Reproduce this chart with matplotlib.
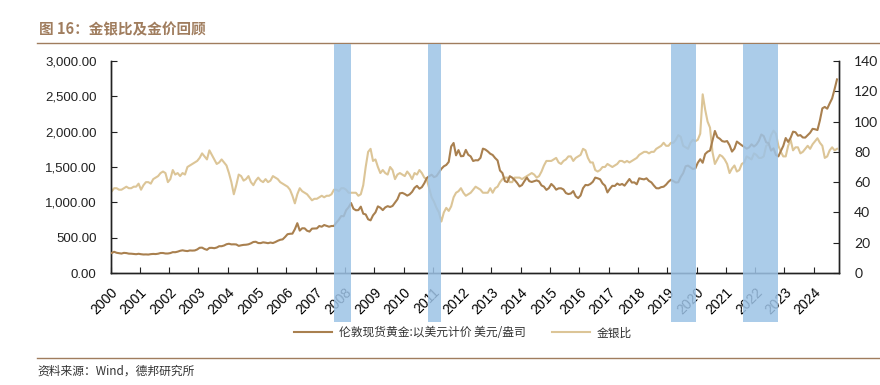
import numpy as np
import matplotlib
matplotlib.use("Agg")
import matplotlib.pyplot as plt
from matplotlib.patches import Rectangle
from matplotlib.transforms import blended_transform_factory
from matplotlib.ticker import FuncFormatter, MultipleLocator

# ---------------- data (monthly, Jan 2000 .. Oct 2024) ----------------
gold_price = [
    # 2000
    284, 300, 286, 280, 275, 285, 282, 274, 273, 270, 266, 272,
    # 2001
    266, 262, 263, 261, 267, 270, 268, 273, 283, 283, 276, 276,
    # 2002
    282, 295, 294, 302, 314, 321, 314, 310, 319, 317, 319, 333,
    # 2003
    357, 359, 340, 328, 355, 356, 351, 360, 379, 379, 389, 407,
    # 2004
    414, 405, 406, 404, 384, 392, 398, 400, 406, 420, 439, 442,
    # 2005
    424, 423, 434, 429, 422, 431, 424, 438, 456, 470, 476, 510,
    # 2006
    549, 555, 557, 620, 705, 600, 633, 632, 598, 586, 628, 629,
    # 2007
    631, 665, 655, 679, 667, 655, 665, 665, 713, 754, 806, 803,
    # 2008
    889, 930, 990, 909, 888, 890, 939, 839, 829, 760, 745, 816,
    # 2009
    858, 943, 924, 890, 928, 946, 934, 949, 996, 1043, 1127, 1134,
    # 2010
    1118, 1095, 1113, 1148, 1205, 1233, 1193, 1215, 1270, 1343, 1370, 1391,
    # 2011
    1356, 1372, 1424, 1474, 1510, 1529, 1572, 1790, 1840, 1665, 1739, 1652,
    # 2012
    1656, 1742, 1673, 1650, 1585, 1596, 1594, 1630, 1760, 1747, 1721, 1688,
    # 2013
    1670, 1627, 1593, 1450, 1414, 1300, 1286, 1370, 1349, 1316, 1275, 1225,
    # 2014
    1244, 1300, 1350, 1299, 1288, 1300, 1311, 1296, 1239, 1222, 1176, 1201,
    # 2015
    1260, 1227, 1179, 1198, 1199, 1182, 1131, 1117, 1125, 1159, 1086, 1060,
    # 2016
    1097, 1200, 1246, 1242, 1260, 1290, 1350, 1340, 1326, 1267, 1236, 1140,
    # 2017
    1192, 1234, 1231, 1266, 1246, 1260, 1236, 1283, 1330, 1280, 1283, 1255,
    # 2018
    1340, 1331, 1325, 1340, 1303, 1282, 1238, 1200, 1198, 1215, 1221, 1250,
    # 2019
    1291, 1320, 1300, 1280, 1284, 1359, 1413, 1510, 1520, 1495, 1471, 1480,
    # 2020
    1560, 1610, 1560, 1683, 1716, 1732, 1870, 2010, 1922, 1900, 1866, 1858,
    # 2021
    1867, 1808, 1718, 1760, 1860, 1834, 1807, 1785, 1760, 1777, 1821, 1790,
    # 2022
    1817, 1870, 1960, 1937, 1849, 1837, 1732, 1764, 1670, 1650, 1726, 1798,
    # 2023
    1910, 1855, 1913, 2000, 1992, 1943, 1951, 1918, 1916, 1950, 1985, 2040,
    # 2024
    2034, 2023, 2160, 2330, 2350, 2325, 2400, 2470, 2600, 2740,
]

gold_silver_ratio = [
    # 2000
    54, 56, 56, 55, 55, 56, 57, 56, 56, 57, 57, 59,
    # 2001
    55, 58, 60, 60, 59, 62, 63, 64, 66, 67, 66, 60,
    # 2002
    62, 68, 65, 66, 64, 66, 65, 70, 71, 72, 73, 74,
    # 2003
    76, 79, 77, 75, 81, 78, 75, 72, 73, 75, 73, 71,
    # 2004
    66, 60, 52, 58, 65, 64, 61, 62, 64, 60, 58, 61,
    # 2005
    63, 61, 60, 62, 60, 61, 64, 63, 62, 60, 59, 58,
    # 2006
    57, 55, 51, 46, 52, 56, 54, 53, 52, 50, 48, 49,
    # 2007
    49, 50, 51, 50, 51, 51, 52, 55, 55, 54, 56, 56,
    # 2008
    55, 53, 53, 53, 53, 51, 52, 58, 70, 80, 82, 74,
    # 2009
    75, 70, 66, 68, 66, 65, 70, 68, 62, 65, 66, 65,
    # 2010
    64, 67, 65, 62, 66, 65, 68, 66, 63, 62, 56, 50,
    # 2011
    47, 43, 40, 34, 40, 43, 41, 44, 50, 53, 54, 56,
    # 2012
    53, 51, 52, 53, 55, 57, 56, 55, 53, 53, 53, 56,
    # 2013
    53, 56, 57, 60, 62, 63, 63, 60, 60, 63, 63, 63,
    # 2014
    62, 63, 64, 65, 66, 65, 63, 64, 67, 71, 74, 74,
    # 2015
    74, 75, 76, 73, 72, 74, 75, 77, 77, 74, 76, 77,
    # 2016
    78, 82, 81, 76, 73, 73, 68, 67, 68, 70, 70, 72,
    # 2017
    71, 70, 71, 72, 74, 74, 73, 74, 73, 74, 75, 76,
    # 2018
    78, 79, 80, 80, 79, 80, 80, 82, 83, 84, 86, 84,
    # 2019
    84, 86, 86, 88, 91, 90, 84, 83, 82, 86, 88, 87,
    # 2020
    88, 92, 118, 108, 100, 96, 80, 72, 75, 78, 77, 75,
    # 2021
    72, 66, 69, 71, 67, 68, 72, 73, 77, 76, 75, 79,
    # 2022
    78, 76, 76, 77, 84, 85, 91, 94, 92, 84, 80, 77,
    # 2023
    77, 84, 88, 81, 83, 83, 79, 80, 82, 84, 82, 85,
    # 2024
    87, 89, 86, 84, 76, 77, 81, 83, 81, 82,
]

years = list(range(2000, 2025))
shade_start = [2007.63, 2010.84, 2019.12, 2021.58]
shade_end = [2008.19, 2011.27, 2019.99, 2022.79]

gold_label = "伦敦现货黄金:以美元计价 美元/盎司"
ratio_label = "金银比"
title_text = "图 16：金银比及金价回顾"
source_text = "资料来源：Wind，德邦研究所"

# ---------------- figure ----------------
W, H = 880, 385
fig = plt.figure(figsize=(W / 100, H / 100), dpi=100)
cjk = ["Noto Sans CJK SC", "DejaVu Sans"]

ax = fig.add_axes([110.5 / W, 1 - 273 / H, (839 - 110.5) / W, (273 - 61) / H])
ax2 = ax.twinx()

t_gold = 2000 + (np.arange(len(gold_price)) + 0.5) / 12
t_ratio = 2000 + (np.arange(len(gold_silver_ratio)) + 0.5) / 12

gold_color = "#A9804F"
ratio_color = "#DCC597"
l1, = ax.plot(t_gold, gold_price, color=gold_color, lw=1.5, zorder=3)
l2, = ax2.plot(t_ratio, gold_silver_ratio, color=ratio_color, lw=1.5, zorder=2)
ax.set_zorder(ax2.get_zorder() + 1)
ax.patch.set_visible(False)

ax.set_xlim(2000, 2024.86)
ax.set_ylim(0, 3000)
ax2.set_ylim(0, 140)
ax.yaxis.set_major_locator(MultipleLocator(500))
ax2.yaxis.set_major_locator(MultipleLocator(20))
ax.yaxis.set_major_formatter(FuncFormatter(lambda v, p: f"{v:,.2f}"))
ax.set_xticks(years)
ax.set_xticklabels([str(y) for y in years], rotation=45, ha="right",
                   rotation_mode="anchor", fontsize=10, family="Liberation Sans")

for a in (ax, ax2):
    a.spines["top"].set_visible(False)
    for s in ("left", "right", "bottom"):
        a.spines[s].set_color("#222222")
        a.spines[s].set_linewidth(1.0)
ax.tick_params(axis="x", direction="in", length=4, pad=9, color="#222222")
ax.tick_params(axis="y", direction="in", length=4, pad=10, labelsize=9.5,
               labelcolor="#222222", color="#222222")
ax2.tick_params(axis="y", direction="in", length=4, pad=11, labelsize=10,
                labelcolor="#222222", color="#222222")
for lab in ax.get_yticklabels():
    lab.set_family("Liberation Sans")
for lab in ax2.get_yticklabels():
    lab.set_family("Lato")

# shaded periods spanning from under title rule to below tick labels
tr = blended_transform_factory(ax.transData, fig.transFigure)
for s, e in zip(shade_start, shade_end):
    r = Rectangle((s, 1 - 322 / H), e - s, (322 - 44) / H, transform=tr,
                  facecolor="#9DC3E6", edgecolor="none", alpha=0.85,
                  zorder=10, clip_on=False)
    fig.add_artist(r)

# legend
fig.legend([l1, l2], [gold_label, ratio_label], loc="center",
           bbox_to_anchor=(463 / W, 1 - 333 / H), ncol=2, frameon=False,
           prop={"family": cjk, "size": 8.5}, handlelength=3.2,
           columnspacing=2.2, handletextpad=0.6, labelcolor="#333333")

# title and source with rules
brown = "#A07D5E"
fig.text(39 / W, 1 - 29 / H, title_text, family=cjk, fontsize=10.5,
         fontweight="bold", color=brown, va="center", ha="left")
fig.add_artist(plt.Line2D([37 / W, 1.0], [1 - 43 / H, 1 - 43 / H],
                          color=brown, lw=1.0, transform=fig.transFigure))
fig.add_artist(plt.Line2D([37 / W, 1.0], [1 - 358 / H, 1 - 358 / H],
                          color=brown, lw=1.0, transform=fig.transFigure))
fig.text(37 / W, 1 - 371 / H, source_text, family=cjk, fontsize=8.5,
         color="#333333", va="center", ha="left")

fig.savefig("out.png", dpi=100)
